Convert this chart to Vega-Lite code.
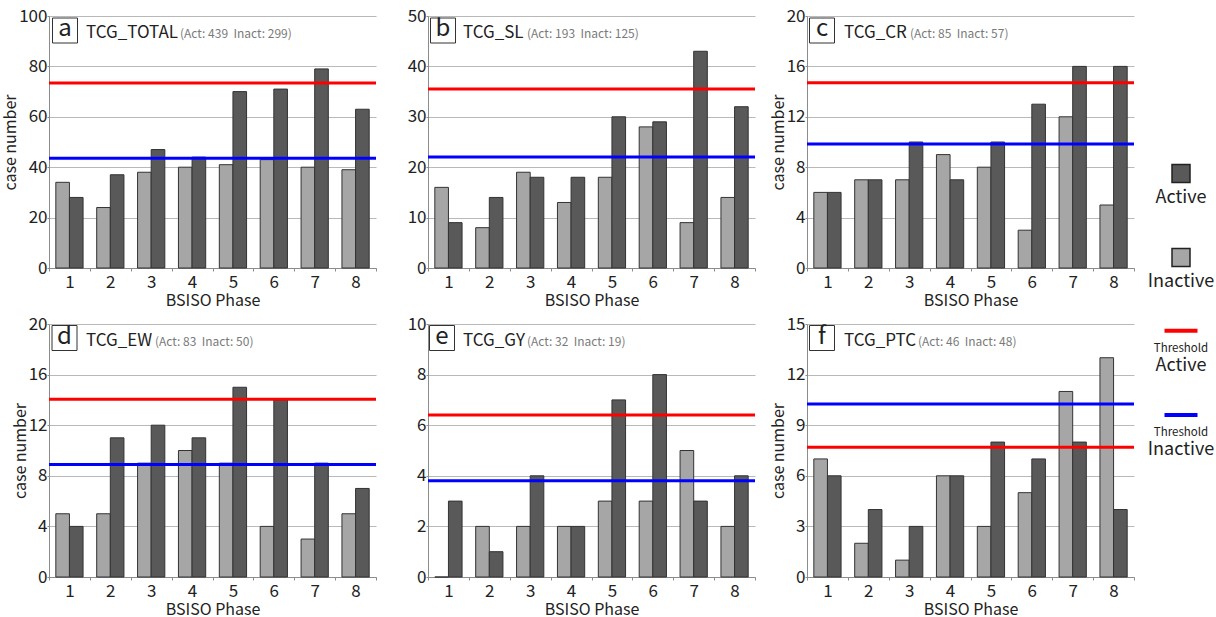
{
  "$schema": "https://vega.github.io/schema/vega-lite/v6.json",
  "background": "white",
  "padding": {"left": 2, "top": 7, "right": 0, "bottom": 2},
  "config": {
    "font": "Noto Sans CJK JP",
    "view": {"stroke": null},
    "axis": {
      "gridColor": "#b9b9b9",
      "gridWidth": 1,
      "domainColor": "#8c8c8c",
      "tickColor": "#8c8c8c",
      "labelColor": "#222222",
      "titleColor": "#222222",
      "labelFontSize": 17,
      "titleFontSize": 16,
      "titleFontWeight": "normal",
      "tickSize": 3,
      "labelPadding": 0,
      "titlePadding": 0
    },
    "axisY": {"tickSize": 2},
    "axisX": {"grid": false, "labelAngle": 0, "tickBand": "extent", "labelPadding": 3, "titlePadding": 2}
  },
  "datasets": {
    "bars": [
      {"panel": "a", "phase": 1, "status": "Inactive", "count": 34},
      {"panel": "a", "phase": 2, "status": "Inactive", "count": 24},
      {"panel": "a", "phase": 3, "status": "Inactive", "count": 38},
      {"panel": "a", "phase": 4, "status": "Inactive", "count": 40},
      {"panel": "a", "phase": 5, "status": "Inactive", "count": 41},
      {"panel": "a", "phase": 6, "status": "Inactive", "count": 43},
      {"panel": "a", "phase": 7, "status": "Inactive", "count": 40},
      {"panel": "a", "phase": 8, "status": "Inactive", "count": 39},
      {"panel": "a", "phase": 1, "status": "Active", "count": 28},
      {"panel": "a", "phase": 2, "status": "Active", "count": 37},
      {"panel": "a", "phase": 3, "status": "Active", "count": 47},
      {"panel": "a", "phase": 4, "status": "Active", "count": 44},
      {"panel": "a", "phase": 5, "status": "Active", "count": 70},
      {"panel": "a", "phase": 6, "status": "Active", "count": 71},
      {"panel": "a", "phase": 7, "status": "Active", "count": 79},
      {"panel": "a", "phase": 8, "status": "Active", "count": 63},
      {"panel": "b", "phase": 1, "status": "Inactive", "count": 16},
      {"panel": "b", "phase": 2, "status": "Inactive", "count": 8},
      {"panel": "b", "phase": 3, "status": "Inactive", "count": 19},
      {"panel": "b", "phase": 4, "status": "Inactive", "count": 13},
      {"panel": "b", "phase": 5, "status": "Inactive", "count": 18},
      {"panel": "b", "phase": 6, "status": "Inactive", "count": 28},
      {"panel": "b", "phase": 7, "status": "Inactive", "count": 9},
      {"panel": "b", "phase": 8, "status": "Inactive", "count": 14},
      {"panel": "b", "phase": 1, "status": "Active", "count": 9},
      {"panel": "b", "phase": 2, "status": "Active", "count": 14},
      {"panel": "b", "phase": 3, "status": "Active", "count": 18},
      {"panel": "b", "phase": 4, "status": "Active", "count": 18},
      {"panel": "b", "phase": 5, "status": "Active", "count": 30},
      {"panel": "b", "phase": 6, "status": "Active", "count": 29},
      {"panel": "b", "phase": 7, "status": "Active", "count": 43},
      {"panel": "b", "phase": 8, "status": "Active", "count": 32},
      {"panel": "c", "phase": 1, "status": "Inactive", "count": 6},
      {"panel": "c", "phase": 2, "status": "Inactive", "count": 7},
      {"panel": "c", "phase": 3, "status": "Inactive", "count": 7},
      {"panel": "c", "phase": 4, "status": "Inactive", "count": 9},
      {"panel": "c", "phase": 5, "status": "Inactive", "count": 8},
      {"panel": "c", "phase": 6, "status": "Inactive", "count": 3},
      {"panel": "c", "phase": 7, "status": "Inactive", "count": 12},
      {"panel": "c", "phase": 8, "status": "Inactive", "count": 5},
      {"panel": "c", "phase": 1, "status": "Active", "count": 6},
      {"panel": "c", "phase": 2, "status": "Active", "count": 7},
      {"panel": "c", "phase": 3, "status": "Active", "count": 10},
      {"panel": "c", "phase": 4, "status": "Active", "count": 7},
      {"panel": "c", "phase": 5, "status": "Active", "count": 10},
      {"panel": "c", "phase": 6, "status": "Active", "count": 13},
      {"panel": "c", "phase": 7, "status": "Active", "count": 16},
      {"panel": "c", "phase": 8, "status": "Active", "count": 16},
      {"panel": "d", "phase": 1, "status": "Inactive", "count": 5},
      {"panel": "d", "phase": 2, "status": "Inactive", "count": 5},
      {"panel": "d", "phase": 3, "status": "Inactive", "count": 9},
      {"panel": "d", "phase": 4, "status": "Inactive", "count": 10},
      {"panel": "d", "phase": 5, "status": "Inactive", "count": 9},
      {"panel": "d", "phase": 6, "status": "Inactive", "count": 4},
      {"panel": "d", "phase": 7, "status": "Inactive", "count": 3},
      {"panel": "d", "phase": 8, "status": "Inactive", "count": 5},
      {"panel": "d", "phase": 1, "status": "Active", "count": 4},
      {"panel": "d", "phase": 2, "status": "Active", "count": 11},
      {"panel": "d", "phase": 3, "status": "Active", "count": 12},
      {"panel": "d", "phase": 4, "status": "Active", "count": 11},
      {"panel": "d", "phase": 5, "status": "Active", "count": 15},
      {"panel": "d", "phase": 6, "status": "Active", "count": 14},
      {"panel": "d", "phase": 7, "status": "Active", "count": 9},
      {"panel": "d", "phase": 8, "status": "Active", "count": 7},
      {"panel": "e", "phase": 1, "status": "Inactive", "count": 0},
      {"panel": "e", "phase": 2, "status": "Inactive", "count": 2},
      {"panel": "e", "phase": 3, "status": "Inactive", "count": 2},
      {"panel": "e", "phase": 4, "status": "Inactive", "count": 2},
      {"panel": "e", "phase": 5, "status": "Inactive", "count": 3},
      {"panel": "e", "phase": 6, "status": "Inactive", "count": 3},
      {"panel": "e", "phase": 7, "status": "Inactive", "count": 5},
      {"panel": "e", "phase": 8, "status": "Inactive", "count": 2},
      {"panel": "e", "phase": 1, "status": "Active", "count": 3},
      {"panel": "e", "phase": 2, "status": "Active", "count": 1},
      {"panel": "e", "phase": 3, "status": "Active", "count": 4},
      {"panel": "e", "phase": 4, "status": "Active", "count": 2},
      {"panel": "e", "phase": 5, "status": "Active", "count": 7},
      {"panel": "e", "phase": 6, "status": "Active", "count": 8},
      {"panel": "e", "phase": 7, "status": "Active", "count": 3},
      {"panel": "e", "phase": 8, "status": "Active", "count": 4},
      {"panel": "f", "phase": 1, "status": "Inactive", "count": 7},
      {"panel": "f", "phase": 2, "status": "Inactive", "count": 2},
      {"panel": "f", "phase": 3, "status": "Inactive", "count": 1},
      {"panel": "f", "phase": 4, "status": "Inactive", "count": 6},
      {"panel": "f", "phase": 5, "status": "Inactive", "count": 3},
      {"panel": "f", "phase": 6, "status": "Inactive", "count": 5},
      {"panel": "f", "phase": 7, "status": "Inactive", "count": 11},
      {"panel": "f", "phase": 8, "status": "Inactive", "count": 13},
      {"panel": "f", "phase": 1, "status": "Active", "count": 6},
      {"panel": "f", "phase": 2, "status": "Active", "count": 4},
      {"panel": "f", "phase": 3, "status": "Active", "count": 3},
      {"panel": "f", "phase": 4, "status": "Active", "count": 6},
      {"panel": "f", "phase": 5, "status": "Active", "count": 8},
      {"panel": "f", "phase": 6, "status": "Active", "count": 7},
      {"panel": "f", "phase": 7, "status": "Active", "count": 8},
      {"panel": "f", "phase": 8, "status": "Active", "count": 4}
    ],
    "thresholds": [
      {"panel": "a", "status": "Active", "value": 73.4},
      {"panel": "a", "status": "Inactive", "value": 43.6},
      {"panel": "b", "status": "Active", "value": 35.5},
      {"panel": "b", "status": "Inactive", "value": 22.0},
      {"panel": "c", "status": "Active", "value": 14.7},
      {"panel": "c", "status": "Inactive", "value": 9.85},
      {"panel": "d", "status": "Active", "value": 14.05},
      {"panel": "d", "status": "Inactive", "value": 8.9},
      {"panel": "e", "status": "Active", "value": 6.4},
      {"panel": "e", "status": "Inactive", "value": 3.8},
      {"panel": "f", "status": "Active", "value": 7.7},
      {"panel": "f", "status": "Inactive", "value": 10.25}
    ],
    "titles": [
      {"panel": "a", "letter": "a", "name": "TCG_TOTAL", "sub": "(Act: 439\u00a0 Inact: 299)"},
      {"panel": "b", "letter": "b", "name": "TCG_SL", "sub": "(Act: 193\u00a0 Inact: 125)"},
      {"panel": "c", "letter": "c", "name": "TCG_CR", "sub": "(Act: 85\u00a0 Inact: 57)"},
      {"panel": "d", "letter": "d", "name": "TCG_EW", "sub": "(Act: 83\u00a0 Inact: 50)"},
      {"panel": "e", "letter": "e", "name": "TCG_GY", "sub": "(Act: 32\u00a0 Inact: 19)"},
      {"panel": "f", "letter": "f", "name": "TCG_PTC", "sub": "(Act: 46\u00a0 Inact: 48)"}
    ],
    "legend": [
      {"item": "Active", "kind": "bar", "status": "Active", "label": "Active"},
      {"item": "Inactive", "kind": "bar", "status": "Inactive", "label": "Inactive"},
      {"item": "Threshold Active", "kind": "line", "status": "Active", "label": "Active"},
      {"item": "Threshold Inactive", "kind": "line", "status": "Inactive", "label": "Inactive"}
    ]
  },
  "columns": 4,
  "spacing": {"row": 56, "column": 52},
  "bounds": "flush",
  "align": "each",
  "concat": [
    {
      "width": 327, "height": 252,
      "layer": [
        {"data": {"name": "bars"}, "transform": [{"filter": "datum.panel === 'a'"}],
         "mark": {"type": "bar", "stroke": "#333333", "strokeWidth": 1},
         "encoding": {
           "x": {"field": "phase", "type": "ordinal", "scale": {"paddingInner": 0, "paddingOuter": 0}, "axis": {"title": "BSISO Phase"}},
           "xOffset": {"field": "status", "type": "nominal", "sort": ["Inactive", "Active"], "scale": {"paddingInner": 0, "paddingOuter": 0.5}},
           "y": {"field": "count", "type": "quantitative", "scale": {"domain": [0, 100], "nice": false}, "axis": {"values": [0, 20, 40, 60, 80, 100], "title": "case number"}},
           "fill": {"field": "status", "type": "nominal", "scale": {"domain": ["Active", "Inactive"], "range": ["#595959", "#a6a6a6"]}, "legend": null}
         }},
        {"data": {"name": "thresholds"}, "transform": [{"filter": "datum.panel === 'a'"}],
         "mark": {"type": "rule", "strokeWidth": 3},
         "encoding": {"y": {"field": "value", "type": "quantitative"}, "stroke": {"field": "status", "type": "nominal", "scale": {"domain": ["Active", "Inactive"], "range": ["#ff0000", "#0000ff"]}, "legend": null}}},
        {"data": {"name": "titles"}, "transform": [{"filter": "datum.panel === 'a'"}],
         "layer": [
           {"mark": {"type": "point", "shape": "square", "size": 625, "filled": false, "stroke": "#333333", "strokeWidth": 1, "opacity": 1, "xOffset": 16, "yOffset": 14.5}},
           {"mark": {"type": "text", "fontSize": 24, "align": "center", "baseline": "middle", "color": "#222222", "xOffset": 16, "yOffset": 13}, "encoding": {"text": {"field": "letter"}}},
           {"mark": {"type": "text", "fontSize": 17, "align": "left", "baseline": "alphabetic", "color": "#222222", "xOffset": 37, "yOffset": 22}, "encoding": {"text": {"field": "name"}}},
           {"mark": {"type": "text", "fontSize": 12, "align": "left", "baseline": "alphabetic", "color": "#7a7a7a", "xOffset": 131, "yOffset": 22}, "encoding": {"text": {"field": "sub"}}}
         ],
         "encoding": {"x": {"datum": 1, "type": "ordinal", "bandPosition": 0}, "y": {"datum": 100, "type": "quantitative"}}}
      ]
    },
    {
      "width": 327, "height": 252,
      "layer": [
        {"data": {"name": "bars"}, "transform": [{"filter": "datum.panel === 'b'"}],
         "mark": {"type": "bar", "stroke": "#333333", "strokeWidth": 1},
         "encoding": {
           "x": {"field": "phase", "type": "ordinal", "scale": {"paddingInner": 0, "paddingOuter": 0}, "axis": {"title": "BSISO Phase"}},
           "xOffset": {"field": "status", "type": "nominal", "sort": ["Inactive", "Active"], "scale": {"paddingInner": 0, "paddingOuter": 0.5}},
           "y": {"field": "count", "type": "quantitative", "scale": {"domain": [0, 50], "nice": false}, "axis": {"values": [0, 10, 20, 30, 40, 50], "title": null}},
           "fill": {"field": "status", "type": "nominal", "scale": {"domain": ["Active", "Inactive"], "range": ["#595959", "#a6a6a6"]}, "legend": null}
         }},
        {"data": {"name": "thresholds"}, "transform": [{"filter": "datum.panel === 'b'"}],
         "mark": {"type": "rule", "strokeWidth": 3},
         "encoding": {"y": {"field": "value", "type": "quantitative"}, "stroke": {"field": "status", "type": "nominal", "scale": {"domain": ["Active", "Inactive"], "range": ["#ff0000", "#0000ff"]}, "legend": null}}},
        {"data": {"name": "titles"}, "transform": [{"filter": "datum.panel === 'b'"}],
         "layer": [
           {"mark": {"type": "point", "shape": "square", "size": 625, "filled": false, "stroke": "#333333", "strokeWidth": 1, "opacity": 1, "xOffset": 15, "yOffset": 14.5}},
           {"mark": {"type": "text", "fontSize": 24, "align": "center", "baseline": "middle", "color": "#222222", "xOffset": 15, "yOffset": 13}, "encoding": {"text": {"field": "letter"}}},
           {"mark": {"type": "text", "fontSize": 17, "align": "left", "baseline": "alphabetic", "color": "#222222", "xOffset": 35, "yOffset": 22}, "encoding": {"text": {"field": "name"}}},
           {"mark": {"type": "text", "fontSize": 12, "align": "left", "baseline": "alphabetic", "color": "#7a7a7a", "xOffset": 99, "yOffset": 22}, "encoding": {"text": {"field": "sub"}}}
         ],
         "encoding": {"x": {"datum": 1, "type": "ordinal", "bandPosition": 0}, "y": {"datum": 50, "type": "quantitative"}}}
      ]
    },
    {
      "width": 327, "height": 252,
      "layer": [
        {"data": {"name": "bars"}, "transform": [{"filter": "datum.panel === 'c'"}],
         "mark": {"type": "bar", "stroke": "#333333", "strokeWidth": 1},
         "encoding": {
           "x": {"field": "phase", "type": "ordinal", "scale": {"paddingInner": 0, "paddingOuter": 0}, "axis": {"title": "BSISO Phase"}},
           "xOffset": {"field": "status", "type": "nominal", "sort": ["Inactive", "Active"], "scale": {"paddingInner": 0, "paddingOuter": 0.5}},
           "y": {"field": "count", "type": "quantitative", "scale": {"domain": [0, 20], "nice": false}, "axis": {"values": [0, 4, 8, 12, 16, 20], "title": "case number"}},
           "fill": {"field": "status", "type": "nominal", "scale": {"domain": ["Active", "Inactive"], "range": ["#595959", "#a6a6a6"]}, "legend": null}
         }},
        {"data": {"name": "thresholds"}, "transform": [{"filter": "datum.panel === 'c'"}],
         "mark": {"type": "rule", "strokeWidth": 3},
         "encoding": {"y": {"field": "value", "type": "quantitative"}, "stroke": {"field": "status", "type": "nominal", "scale": {"domain": ["Active", "Inactive"], "range": ["#ff0000", "#0000ff"]}, "legend": null}}},
        {"data": {"name": "titles"}, "transform": [{"filter": "datum.panel === 'c'"}],
         "layer": [
           {"mark": {"type": "point", "shape": "square", "size": 625, "filled": false, "stroke": "#333333", "strokeWidth": 1, "opacity": 1, "xOffset": 15, "yOffset": 14.5}},
           {"mark": {"type": "text", "fontSize": 24, "align": "center", "baseline": "middle", "color": "#222222", "xOffset": 15, "yOffset": 13}, "encoding": {"text": {"field": "letter"}}},
           {"mark": {"type": "text", "fontSize": 17, "align": "left", "baseline": "alphabetic", "color": "#222222", "xOffset": 37, "yOffset": 22}, "encoding": {"text": {"field": "name"}}},
           {"mark": {"type": "text", "fontSize": 12, "align": "left", "baseline": "alphabetic", "color": "#7a7a7a", "xOffset": 103, "yOffset": 22}, "encoding": {"text": {"field": "sub"}}}
         ],
         "encoding": {"x": {"datum": 1, "type": "ordinal", "bandPosition": 0}, "y": {"datum": 20, "type": "quantitative"}}}
      ]
    },
    {
      "width": 2, "height": 252,
      "data": {"name": "legend"},
      "transform": [{"filter": "datum.kind === 'bar'"}],
      "encoding": {
        "y": {"field": "item", "type": "ordinal", "sort": ["Active", "Inactive"], "scale": {"type": "point", "padding": 1.158, "align": 0.9375}, "axis": null}
      },
      "layer": [
        {"mark": {"type": "point", "shape": "square", "size": 324, "filled": true, "stroke": "#222222", "strokeWidth": 1.5, "opacity": 1, "xOffset": -6},
         "encoding": {"fill": {"field": "status", "type": "nominal", "scale": {"domain": ["Active", "Inactive"], "range": ["#595959", "#a6a6a6"]}, "legend": null}}},
        {"mark": {"type": "text", "fontSize": 18, "align": "center", "baseline": "middle", "color": "#222222", "dy": 24, "dx": -6},
         "encoding": {"text": {"field": "label"}}}
      ]
    },
    {
      "width": 327, "height": 253,
      "layer": [
        {"data": {"name": "bars"}, "transform": [{"filter": "datum.panel === 'd'"}],
         "mark": {"type": "bar", "stroke": "#333333", "strokeWidth": 1},
         "encoding": {
           "x": {"field": "phase", "type": "ordinal", "scale": {"paddingInner": 0, "paddingOuter": 0}, "axis": {"title": "BSISO Phase"}},
           "xOffset": {"field": "status", "type": "nominal", "sort": ["Inactive", "Active"], "scale": {"paddingInner": 0, "paddingOuter": 0.5}},
           "y": {"field": "count", "type": "quantitative", "scale": {"domain": [0, 20], "nice": false}, "axis": {"values": [0, 4, 8, 12, 16, 20], "title": "case number"}},
           "fill": {"field": "status", "type": "nominal", "scale": {"domain": ["Active", "Inactive"], "range": ["#595959", "#a6a6a6"]}, "legend": null}
         }},
        {"data": {"name": "thresholds"}, "transform": [{"filter": "datum.panel === 'd'"}],
         "mark": {"type": "rule", "strokeWidth": 3},
         "encoding": {"y": {"field": "value", "type": "quantitative"}, "stroke": {"field": "status", "type": "nominal", "scale": {"domain": ["Active", "Inactive"], "range": ["#ff0000", "#0000ff"]}, "legend": null}}},
        {"data": {"name": "titles"}, "transform": [{"filter": "datum.panel === 'd'"}],
         "layer": [
           {"mark": {"type": "point", "shape": "square", "size": 625, "filled": false, "stroke": "#333333", "strokeWidth": 1, "opacity": 1, "xOffset": 15.5, "yOffset": 14}},
           {"mark": {"type": "text", "fontSize": 24, "align": "center", "baseline": "middle", "color": "#222222", "xOffset": 15.5, "yOffset": 12.5}, "encoding": {"text": {"field": "letter"}}},
           {"mark": {"type": "text", "fontSize": 17, "align": "left", "baseline": "alphabetic", "color": "#222222", "xOffset": 37, "yOffset": 21.5}, "encoding": {"text": {"field": "name"}}},
           {"mark": {"type": "text", "fontSize": 12, "align": "left", "baseline": "alphabetic", "color": "#7a7a7a", "xOffset": 106, "yOffset": 21.5}, "encoding": {"text": {"field": "sub"}}}
         ],
         "encoding": {"x": {"datum": 1, "type": "ordinal", "bandPosition": 0}, "y": {"datum": 20, "type": "quantitative"}}}
      ]
    },
    {
      "width": 327, "height": 253,
      "layer": [
        {"data": {"name": "bars"}, "transform": [{"filter": "datum.panel === 'e'"}],
         "mark": {"type": "bar", "stroke": "#333333", "strokeWidth": 1},
         "encoding": {
           "x": {"field": "phase", "type": "ordinal", "scale": {"paddingInner": 0, "paddingOuter": 0}, "axis": {"title": "BSISO Phase"}},
           "xOffset": {"field": "status", "type": "nominal", "sort": ["Inactive", "Active"], "scale": {"paddingInner": 0, "paddingOuter": 0.5}},
           "y": {"field": "count", "type": "quantitative", "scale": {"domain": [0, 10], "nice": false}, "axis": {"values": [0, 2, 4, 6, 8, 10], "title": null}},
           "fill": {"field": "status", "type": "nominal", "scale": {"domain": ["Active", "Inactive"], "range": ["#595959", "#a6a6a6"]}, "legend": null}
         }},
        {"data": {"name": "thresholds"}, "transform": [{"filter": "datum.panel === 'e'"}],
         "mark": {"type": "rule", "strokeWidth": 3},
         "encoding": {"y": {"field": "value", "type": "quantitative"}, "stroke": {"field": "status", "type": "nominal", "scale": {"domain": ["Active", "Inactive"], "range": ["#ff0000", "#0000ff"]}, "legend": null}}},
        {"data": {"name": "titles"}, "transform": [{"filter": "datum.panel === 'e'"}],
         "layer": [
           {"mark": {"type": "point", "shape": "square", "size": 625, "filled": false, "stroke": "#333333", "strokeWidth": 1, "opacity": 1, "xOffset": 14, "yOffset": 14}},
           {"mark": {"type": "text", "fontSize": 24, "align": "center", "baseline": "middle", "color": "#222222", "xOffset": 14, "yOffset": 12.5}, "encoding": {"text": {"field": "letter"}}},
           {"mark": {"type": "text", "fontSize": 17, "align": "left", "baseline": "alphabetic", "color": "#222222", "xOffset": 35, "yOffset": 21.5}, "encoding": {"text": {"field": "name"}}},
           {"mark": {"type": "text", "fontSize": 12, "align": "left", "baseline": "alphabetic", "color": "#7a7a7a", "xOffset": 99, "yOffset": 21.5}, "encoding": {"text": {"field": "sub"}}}
         ],
         "encoding": {"x": {"datum": 1, "type": "ordinal", "bandPosition": 0}, "y": {"datum": 10, "type": "quantitative"}}}
      ]
    },
    {
      "width": 327, "height": 253,
      "layer": [
        {"data": {"name": "bars"}, "transform": [{"filter": "datum.panel === 'f'"}],
         "mark": {"type": "bar", "stroke": "#333333", "strokeWidth": 1},
         "encoding": {
           "x": {"field": "phase", "type": "ordinal", "scale": {"paddingInner": 0, "paddingOuter": 0}, "axis": {"title": "BSISO Phase"}},
           "xOffset": {"field": "status", "type": "nominal", "sort": ["Inactive", "Active"], "scale": {"paddingInner": 0, "paddingOuter": 0.5}},
           "y": {"field": "count", "type": "quantitative", "scale": {"domain": [0, 15], "nice": false}, "axis": {"values": [0, 3, 6, 9, 12, 15], "title": "case number"}},
           "fill": {"field": "status", "type": "nominal", "scale": {"domain": ["Active", "Inactive"], "range": ["#595959", "#a6a6a6"]}, "legend": null}
         }},
        {"data": {"name": "thresholds"}, "transform": [{"filter": "datum.panel === 'f'"}],
         "mark": {"type": "rule", "strokeWidth": 3},
         "encoding": {"y": {"field": "value", "type": "quantitative"}, "stroke": {"field": "status", "type": "nominal", "scale": {"domain": ["Active", "Inactive"], "range": ["#ff0000", "#0000ff"]}, "legend": null}}},
        {"data": {"name": "titles"}, "transform": [{"filter": "datum.panel === 'f'"}],
         "layer": [
           {"mark": {"type": "point", "shape": "square", "size": 625, "filled": false, "stroke": "#333333", "strokeWidth": 1, "opacity": 1, "xOffset": 15, "yOffset": 14}},
           {"mark": {"type": "text", "fontSize": 24, "align": "center", "baseline": "middle", "color": "#222222", "xOffset": 15, "yOffset": 12.5}, "encoding": {"text": {"field": "letter"}}},
           {"mark": {"type": "text", "fontSize": 17, "align": "left", "baseline": "alphabetic", "color": "#222222", "xOffset": 37, "yOffset": 21.5}, "encoding": {"text": {"field": "name"}}},
           {"mark": {"type": "text", "fontSize": 12, "align": "left", "baseline": "alphabetic", "color": "#7a7a7a", "xOffset": 111, "yOffset": 21.5}, "encoding": {"text": {"field": "sub"}}}
         ],
         "encoding": {"x": {"datum": 1, "type": "ordinal", "bandPosition": 0}, "y": {"datum": 15, "type": "quantitative"}}}
      ]
    },
    {
      "width": 2, "height": 253,
      "data": {"name": "legend"},
      "transform": [{"filter": "datum.kind === 'line'"}],
      "encoding": {
        "y": {"field": "item", "type": "ordinal", "sort": ["Threshold Active", "Threshold Inactive"], "scale": {"type": "point", "padding": 1.187, "align": 0.0393}, "axis": null}
      },
      "layer": [
        {"mark": {"type": "point", "shape": "stroke", "size": 1089, "filled": false, "strokeWidth": 4, "opacity": 1, "xOffset": -6},
         "encoding": {"stroke": {"field": "status", "type": "nominal", "scale": {"domain": ["Active", "Inactive"], "range": ["#ff0000", "#0000ff"]}, "legend": null}}},
        {"mark": {"type": "text", "fontSize": 11.5, "align": "center", "baseline": "middle", "color": "#222222", "dy": 18, "dx": -6, "text": "Threshold"}},
        {"mark": {"type": "text", "fontSize": 18, "align": "center", "baseline": "middle", "color": "#222222", "dy": 35, "dx": -6},
         "encoding": {"text": {"field": "label"}}}
      ]
    }
  ]
}
